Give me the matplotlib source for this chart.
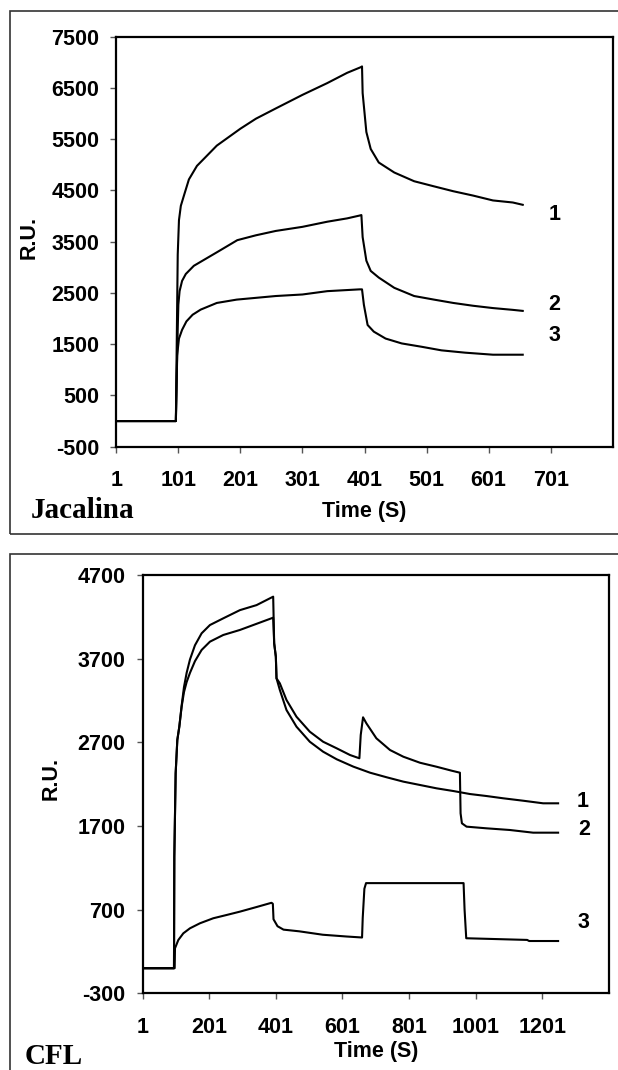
import matplotlib
matplotlib.use("Agg")
import matplotlib.pyplot as plt
from matplotlib.patches import Rectangle

# ---------------- Data: Jacalina (top panel) ----------------
jac_t1 = [1, 97, 100, 102, 105, 110, 118, 131, 144, 163, 182, 201, 226, 258, 301, 341, 373, 395, 397,
          398, 404, 411, 424, 449, 481, 513, 544, 576, 608, 640, 656]
jac_v1 = [0, 0, 3250, 3920, 4200, 4400, 4715, 4980, 5140, 5375, 5540, 5705, 5900, 6100, 6365, 6595, 6795, 6905, 6920,
          6400, 5640, 5310, 5045, 4850, 4680, 4580, 4485, 4400, 4305, 4265, 4220]

jac_t2 = [1, 97, 100, 101, 103, 107, 113, 126, 145, 164, 196, 226, 258, 301, 341, 373, 393, 396,
          398, 404, 411, 424, 449, 481, 513, 544, 576, 608, 640, 656]
jac_v2 = [0, 0, 1800, 2272, 2536, 2735, 2870, 3030, 3165, 3300, 3530, 3625, 3710, 3790, 3890, 3955, 4010, 4020,
          3590, 3130, 2930, 2800, 2600, 2440, 2370, 2305, 2250, 2205, 2170, 2150]

jac_t3 = [1, 97, 99, 102, 107, 114, 124, 137, 163, 195, 258, 301, 341, 393, 397,
          400, 406, 416, 435, 461, 493, 525, 563, 608, 656]
jac_v3 = [0, 0, 1280, 1610, 1780, 1945, 2075, 2175, 2305, 2370, 2440, 2470, 2535, 2570, 2570,
          2270, 1875, 1745, 1610, 1515, 1450, 1380, 1335, 1295, 1295]

jac_xticks = [1, 101, 201, 301, 401, 501, 601, 701]
jac_yticks = [-500, 500, 1500, 2500, 3500, 4500, 5500, 6500, 7500]
jac_labels = ["1", "2", "3"]
jac_label_pos = [(707, 4021), (707, 2272), (707, 1678)]

# ---------------- Data: CFL (bottom panel) ----------------
cfl_t1 = [1, 95, 96, 100, 105, 111, 118, 125, 133, 143, 158, 178, 203, 243, 293, 393,
          396, 401, 403, 413, 433, 463, 503, 543, 584, 634, 684, 734, 784, 834, 884, 934,
          984, 1034, 1084, 1144, 1204, 1249]
cfl_v1 = [0, 0, 1333, 2330, 2728, 2887, 3126, 3300, 3420, 3530, 3670, 3804, 3903, 3983, 4043, 4190,
          3883, 3723, 3465, 3326, 3086, 2887, 2707, 2588, 2497, 2409, 2337, 2282, 2230, 2190, 2150, 2118,
          2082, 2058, 2031, 2002, 1971, 1971]

cfl_t2 = [1, 95, 96, 100, 105, 111, 118, 125, 133, 143, 158, 178, 203, 243, 293, 343, 393,
          396, 401, 403, 413, 433, 463, 503, 543, 584, 624, 652, 656, 663, 673, 703, 744, 784, 834,
          884, 929, 954, 956, 960, 974, 1034, 1104, 1174, 1249]
cfl_v2 = [0, 0, 1333, 2330, 2728, 2887, 3140, 3360, 3530, 3690, 3860, 4003, 4102, 4182, 4280, 4340, 4441,
          3883, 3723, 3465, 3405, 3206, 3006, 2827, 2707, 2628, 2548, 2509, 2787, 2999, 2927, 2748, 2608, 2528, 2456,
          2408, 2361, 2337, 1851, 1732, 1692, 1672, 1652, 1620, 1620]

cfl_t3 = [1, 97, 98, 108, 123, 143, 173, 213, 253, 293, 341, 388, 392, 394, 406, 424, 471, 542, 613, 660,
          662, 667, 672, 965, 968, 973, 1156, 1162, 1249]
cfl_v3 = [0, 0, 238, 337, 417, 477, 537, 597, 636, 676, 729, 782, 770, 585, 502, 461, 441, 400, 379, 367,
          600, 950, 1017, 1017, 700, 358, 338, 325, 325]

cfl_xticks = [1, 201, 401, 601, 801, 1001, 1201]
cfl_yticks = [-300, 700, 1700, 2700, 3700, 4700]
cfl_labels = ["1", "2", "3"]
cfl_label_pos = [(1324, 1990), (1329, 1652), (1324, 552)]

# ---------------- Figure ----------------
W, H = 618, 1070
fig = plt.figure(figsize=(W / 100, H / 100), dpi=100)

SANS = ["Liberation Sans", "DejaVu Sans"]
SERIF = ["Liberation Serif", "DejaVu Serif"]
FS = 15.5


def fx(px):
    return px / W


def fy(py):
    return 1 - py / H


def style_axes(ax, xticks, yticks, xlim, ylim):
    ax.set_xlim(*xlim)
    ax.set_ylim(*ylim)
    ax.set_xticks(xticks)
    ax.set_yticks(yticks)
    ax.set_xticklabels([str(v) for v in xticks], fontfamily=SANS, fontweight="bold", fontsize=FS)
    ax.set_yticklabels([str(v) for v in yticks], fontfamily=SANS, fontweight="bold", fontsize=FS)
    ax.tick_params(axis="x", direction="out", length=4.3, width=1.0, pad=12.5, color="#555555")
    ax.tick_params(axis="y", direction="out", length=4.3, width=1.0, pad=8, color="#555555")
    for s in ax.spines.values():
        s.set_linewidth(1.6)
        s.set_color("black")


# Outer frames
fig.add_artist(Rectangle((fx(10.3), fy(534.3)), 1.2, fy(10.7) - fy(534.3), transform=fig.transFigure,
                         fill=False, edgecolor="#333333", linewidth=1.2, clip_on=False))
fig.add_artist(Rectangle((fx(10.3), fy(1200)), 1.2, fy(554.3) - fy(1200), transform=fig.transFigure,
                         fill=False, edgecolor="#333333", linewidth=1.2, clip_on=False))

# Top axes
ax1 = fig.add_axes([fx(116.3), fy(446.7), fx(612.7) - fx(116.3), fy(36.7) - fy(446.7)])
for t, v in [(jac_t1, jac_v1), (jac_t2, jac_v2), (jac_t3, jac_v3)]:
    ax1.plot(t, v, color="black", linewidth=1.5, solid_joinstyle="round")
style_axes(ax1, jac_xticks, jac_yticks, (1, 801), (-500, 7500))
for lab, (x, y) in zip(jac_labels, jac_label_pos):
    ax1.text(x, y, lab, fontfamily=SANS, fontweight="bold", fontsize=FS, ha="center", va="center")

# Bottom axes
ax2 = fig.add_axes([fx(142.7), fy(993.3), fx(608.7) - fx(142.7), fy(575) - fy(993.3)])
for t, v in [(cfl_t1, cfl_v1), (cfl_t2, cfl_v2), (cfl_t3, cfl_v3)]:
    ax2.plot(t, v, color="black", linewidth=1.5, solid_joinstyle="round")
style_axes(ax2, cfl_xticks, cfl_yticks, (1, 1401), (-300, 4700))
for lab, (x, y) in zip(cfl_labels, cfl_label_pos):
    ax2.text(x, y, lab, fontfamily=SANS, fontweight="bold", fontsize=FS, ha="center", va="center")

# Axis titles and panel names
fig.text(fx(29.6), fy(237), "R.U.", rotation=90, fontfamily=SANS, fontweight="bold", fontsize=FS,
         ha="center", va="center")
fig.text(fx(51), fy(778), "R.U.", rotation=90, fontfamily=SANS, fontweight="bold", fontsize=FS,
         ha="center", va="center")
fig.text(fx(364.5), fy(512), "Time (S)", fontfamily=SANS, fontweight="bold", fontsize=FS,
         ha="center", va="center")
fig.text(fx(375.7), fy(1052), "Time (S)", fontfamily=SANS, fontweight="bold", fontsize=FS,
         ha="center", va="center")
fig.text(fx(31), fy(511), "Jacalina", fontfamily=SERIF, fontweight="bold", fontsize=21,
         ha="left", va="center")
fig.text(fx(25), fy(1057), "CFL", fontfamily=SERIF, fontweight="bold", fontsize=21,
         ha="left", va="center")

fig.savefig("out.png", dpi=100, facecolor="white")
